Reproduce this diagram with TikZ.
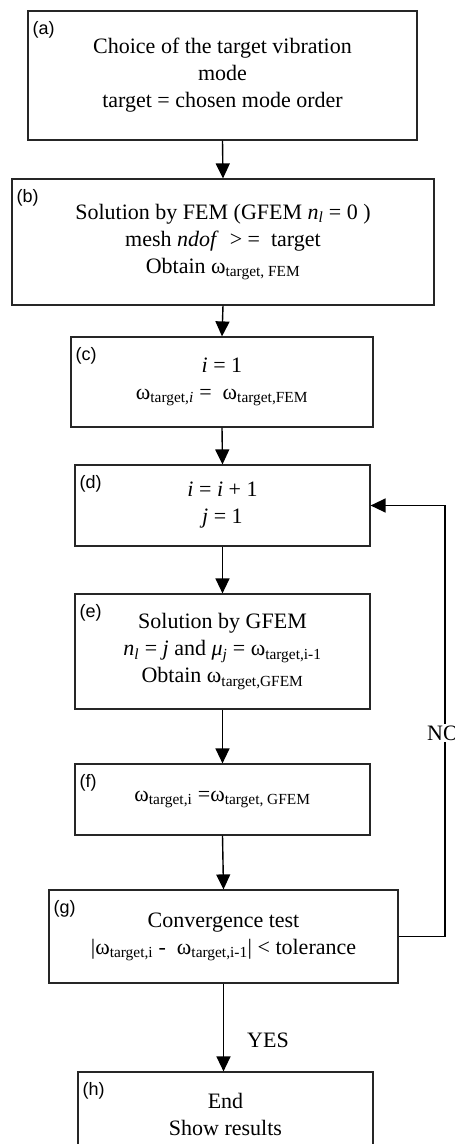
\documentclass[tikz,border=0pt]{standalone}
\usepackage{fontspec}
\setmainfont{Liberation Serif}
\newfontfamily\labfont{Liberation Sans}
\usetikzlibrary{arrows.meta}
\tikzset{
  box/.style={draw=black!85, line width=1.2pt, inner sep=0pt, align=center,
    font=\fontsize{22}{27}\selectfont},
  lab/.style={anchor=north west, inner sep=0pt, font=\labfont\fontsize{18}{20}\selectfont},
  arr/.style={line width=1.4pt, -{Triangle[length=15pt,width=14pt]}},
  txt/.style={inner sep=0pt, font=\fontsize{22}{27}\selectfont}
}
\newcommand{\om}{ω}
\begin{document}
\begin{tikzpicture}[x=1pt,y=-1pt]
\useasboundingbox (0,0) rectangle (455,1144);
\clip (0,0) rectangle (455,1144);
\node[box, minimum width=389pt, minimum height=129pt] (a) at (222.5,75.5)
  {Choice of the target vibration\\ mode\\ target = chosen mode order};
\node[box, minimum width=422pt, minimum height=126pt] (b) at (223,242)
  {Solution by FEM (GFEM \textit{n}\textsubscript{\textit{l}} = 0 )\\ mesh \textit{ndof}~ > =~ target\\ Obtain \om\textsubscript{target, FEM}};
\node[box, minimum width=302pt, minimum height=90pt] (c) at (222,382)
  {\textit{i} = 1\\ \om\textsubscript{target,\textit{i}} =~ \om\textsubscript{target,FEM}};
\node[box, minimum width=295pt, minimum height=81pt] (d) at (222.5,505.5)
  {\textit{i} = \textit{i} + 1\\ \textit{j} = 1};
\node[box, minimum width=295pt, minimum height=115pt] (e) at (222.5,651.5)
  {Solution by GFEM\\ \textit{n}\textsubscript{\textit{l}} = \textit{j} and \textit{μ}\textsubscript{\textit{j}} = \om\textsubscript{target,i-1}\\ Obtain \om\textsubscript{target,GFEM}};
\node[box, minimum width=295pt, minimum height=71pt] (f) at (222.5,799.5)
  {\om\textsubscript{target,i} =\om\textsubscript{target, GFEM}};
\node[box, minimum width=349pt, minimum height=93pt] (g) at (223.5,936.5)
  {Convergence test\\ |\om\textsubscript{target,i} -~ \om\textsubscript{target,i-1}| < tolerance};
\node[box, minimum width=295pt, minimum height=84pt] (h) at (225.5,1114)
  {End\\ Show results};
\foreach \n in {a,b,c,d,e,f,g,h}{
  \node[lab] (l\n) at ([xshift=5pt,yshift=-11pt]\n.north west) {(\n)};
}
\draw[arr] (a.south) -- (b.north);
\draw[arr] (b.south) -- (c.north);
\draw[arr] (c.south) -- (d.north);
\draw[arr] (d.south) -- (e.north);
\draw[arr] (e.south) -- (f.north);
\draw[arr] (f.south) -- (g.north);
\draw[arr] (g.south) -- (g.south |- h.north);
\coordinate (fb) at (445,0);
\draw[arr] (g.east) -| (fb |- d.east) -- (d.east);
\node[txt, fill=white, inner sep=2pt, anchor=west] (no) at (425,733) {NO};
\node[txt] (yes) at (268,1040) {YES};
\end{tikzpicture}
\end{document}
